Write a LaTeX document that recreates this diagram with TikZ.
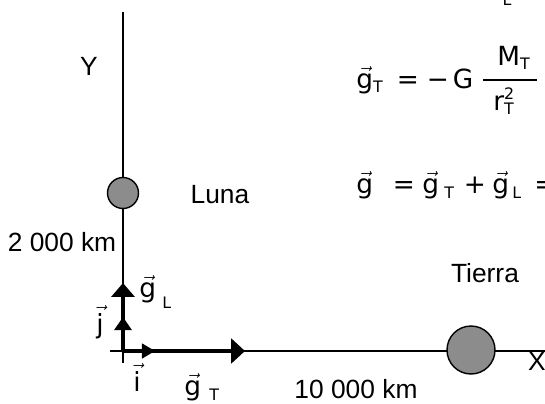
\documentclass[tikz,border=0pt]{standalone}
\usepackage{amsmath}
\usepackage{fontspec}
\setmainfont{Liberation Sans}
\newfontfamily\formfont{DejaVu Sans}
\usetikzlibrary{arrows.meta}
\newcommand{\vv}[1]{$\vec{\mbox{#1}}$}
\newcommand{\sub}[1]{{\fontsize{9}{9}\selectfont #1}}
\tikzset{
  lbl/.style={font=\fontsize{15}{17}\selectfont, inner sep=0pt},
  frm/.style={font=\formfont\fontsize{15}{17}\selectfont, inner sep=0pt},
  body/.style={draw, line width=0.8pt, fill=gray!90!white},
  vecline/.style={line width=2.3pt},
}
\begin{document}
\begin{tikzpicture}[x=0.02cm, y=-0.02cm]
  \useasboundingbox (0,0) rectangle (545,403);
  \clip (0,0) rectangle (545,403);
  % axes
  \coordinate (O) at (123,351);
  \coordinate (ytop) at (123,12);
  \coordinate (ybot) at (123,363);
  \coordinate (xleft) at (110,351);
  \coordinate (xright) at (545,351);
  \draw[line width=0.8pt] (ytop) -- (ybot);
  \draw[line width=0.8pt] (xleft) -- (xright);
  \node[lbl] (Y) at (89,66) {Y};
  \node[lbl] (X) at (537,361) {X};
  % bodies
  \node[body, circle, minimum size=31*0.02cm, inner sep=0pt] (luna) at (123,193) {};
  \node[body, circle, minimum size=48*0.02cm, inner sep=0pt] (tierra) at (471,350) {};
  \node[lbl] (lunatxt) at (220,195) {Luna};
  \node[lbl] (tierratxt) at (485,273) {Tierra};
  \node[lbl] (dy) at (62,242) {2 000 km};
  \node[lbl] (dx) at (356,389) {10 000 km};
  % vectors
  \coordinate (gL) at (123,283);
  \coordinate (gT) at (245,351);
  \coordinate (jt) at (123,317);
  \coordinate (it) at (155,351);
  \draw[vecline, -{Triangle[length=7.9pt, width=13pt]}] (O) -- (gL);
  \draw[vecline, -{Triangle[length=7.9pt, width=14pt]}] (O) -- (gT);
  \draw[vecline, -{Triangle[length=7.4pt, width=9.6pt]}] (O) -- (jt);
  \draw[line width=0.8pt, -{Triangle[length=7.4pt, width=8.5pt]}] (O) -- (it);
  \node[frm, anchor=base west] (gLtxt) at (139,297) {\vv{g}};
  \node[frm, anchor=base west] (gLsub) at (162,308) {\sub{L}};
  \node[frm, anchor=base] (jtxt) at (100,333) {\vv{j}};
  \node[frm, anchor=base] (itxt) at (137,391) {\vv{i}};
  \node[frm, anchor=base west] (gTtxt) at (184,395) {\vv{g}};
  \node[frm, anchor=base west] (gTsub) at (209,400) {\sub{T}};
  % formulas
  \node[frm, anchor=south] (topL) at (507,6) {\sub{L}};
  \node[frm, anchor=base west] (f1g) at (356,88) {\vv{g}\raisebox{-2.5pt}{\sub{T}}};
  \node[frm, anchor=base] (f1eq) at (408,88) {=};
  \node[frm, anchor=base] (f1m) at (438,88) {−};
  \node[frm, anchor=base] (f1G) at (463,88) {G};
  \draw[line width=0.8pt] (483,80) coordinate (barl) -- (537,80) coordinate (barr);
  \node[frm, anchor=base west] (num) at (497,65) {M\raisebox{-2.5pt}{\sub{T}}};
  \node[frm, anchor=base west] (den) at (493,110)
    {r\raisebox{-2.5pt}{\sub{T}}\hspace{-5.5pt}\raisebox{6pt}{\sub{2}}};
  \node[frm, anchor=base west] (f2g) at (356,193) {\vv{g}};
  \node[frm, anchor=base] (f2eq) at (404,193) {=};
  \node[frm, anchor=base west] (f2gT) at (422,193) {\vv{g}};
  \node[frm, anchor=base west] (f2Ts) at (444,198) {\sub{T}};
  \node[frm, anchor=base] (f2plus) at (475,193) {+};
  \node[frm, anchor=base west] (f2gL) at (492,193) {\vv{g}};
  \node[frm, anchor=base west] (f2Ls) at (512,198) {\sub{L}};
  \node[frm, anchor=base west] (f2eq2) at (534,193) {=};
\end{tikzpicture}
\end{document}
